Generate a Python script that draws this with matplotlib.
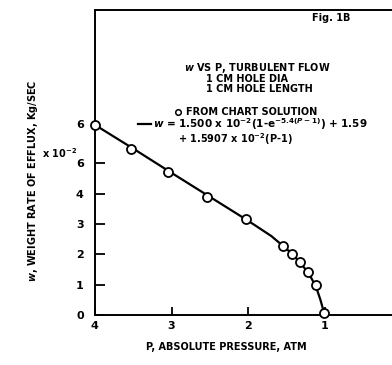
import matplotlib.pyplot as plt
from matplotlib.lines import Line2D

plt.rcParams['font.family'] = ['DejaVu Sans']
plt.rcParams['font.weight'] = 'bold'

# chart solution points (P in atm, w in 1e-2 kg/sec)
p_pts = [4.0, 3.53, 3.05, 2.54, 2.03, 1.55, 1.43, 1.33, 1.22, 1.12, 1.01]
w_pts = [6.27, 5.48, 4.72, 3.89, 3.15, 2.28, 2.02, 1.74, 1.42, 0.98, 0.05]

# fitted curve
p_fit = [3.96, 3.5, 3.0, 2.5, 2.0, 1.7, 1.55, 1.43, 1.33, 1.22, 1.12, 1.06, 1.01]
w_fit = [6.2, 5.48, 4.68, 3.89, 3.1, 2.6, 2.28, 2.02, 1.74, 1.40, 0.95, 0.5, 0.05]

xticks = [4, 3, 2, 1]
yticks = [0, 1, 2, 3, 4, 5]
ytick_labels = ['0', '1', '2', '3', '4', '6']

fig = plt.figure(figsize=(3.92, 3.65), dpi=100)
ax = fig.add_axes([0.242, 0.137, 0.758, 0.836])

ax.plot(p_fit, w_fit, color='black', lw=1.6, zorder=2)
ax.plot(p_pts, w_pts, 'o', ms=6.5, mfc='white', mec='black', mew=1.3, zorder=3, clip_on=False)

ax.set_xlim(4, 0.127)
ax.set_ylim(0, 10.05)
ax.set_xticks(xticks)
ax.set_xticklabels([str(t) for t in xticks])
ax.set_yticks(yticks)
ax.set_yticklabels(ytick_labels)
ax.tick_params(axis='y', direction='in', length=7, width=1.3, labelsize=8, pad=8)
ax.tick_params(axis='x', direction='in', length=6, width=1.3, labelsize=8, pad=4)
for s in ['left', 'bottom', 'top']:
    ax.spines[s].set_linewidth(1.4)
ax.spines['right'].set_visible(False)

fs = 7
fig.text(0.577, 0.05, 'P, ABSOLUTE PRESSURE, ATM', fontsize=fs, ha='center', va='center')
fig.text(0.085, 0.505, '$w$, WEIGHT RATE OF EFFLUX, Kg/SEC', rotation=90,
         fontsize=fs, ha='center', va='center')

fig.text(0.107, 0.58, 'x 10$^{-2}$', fontsize=fs, ha='left', va='center')
fig.text(0.195, 0.658, '6', fontsize=8, ha='left', va='center')

fig.text(0.845, 0.95, 'Fig. 1B', fontsize=fs, ha='center', va='center')
fig.text(0.47, 0.815, '$w$ VS P, TURBULENT FLOW', fontsize=fs, ha='left', va='center')
fig.text(0.526, 0.784, '1 CM HOLE DIA', fontsize=fs, ha='left', va='center')
fig.text(0.526, 0.756, '1 CM HOLE LENGTH', fontsize=fs, ha='left', va='center')

fig.add_artist(Line2D([0.455], [0.693], marker='o', ms=4, mfc='white', mec='black', mew=1.1))
fig.text(0.475, 0.693, 'FROM CHART SOLUTION', fontsize=fs, ha='left', va='center')
fig.add_artist(Line2D([0.352, 0.385], [0.66, 0.66], color='black', lw=1.6))
fig.text(0.39, 0.66, '$w$ = 1.500 x 10$^{-2}$(1-e$^{-5.4(P-1)}$) + 1.59',
         fontsize=7.5, ha='left', va='center')
fig.text(0.455, 0.618, '+ 1.5907 x 10$^{-2}$(P-1)', fontsize=fs, ha='left', va='center')

fig.savefig('out.png', dpi=100)
